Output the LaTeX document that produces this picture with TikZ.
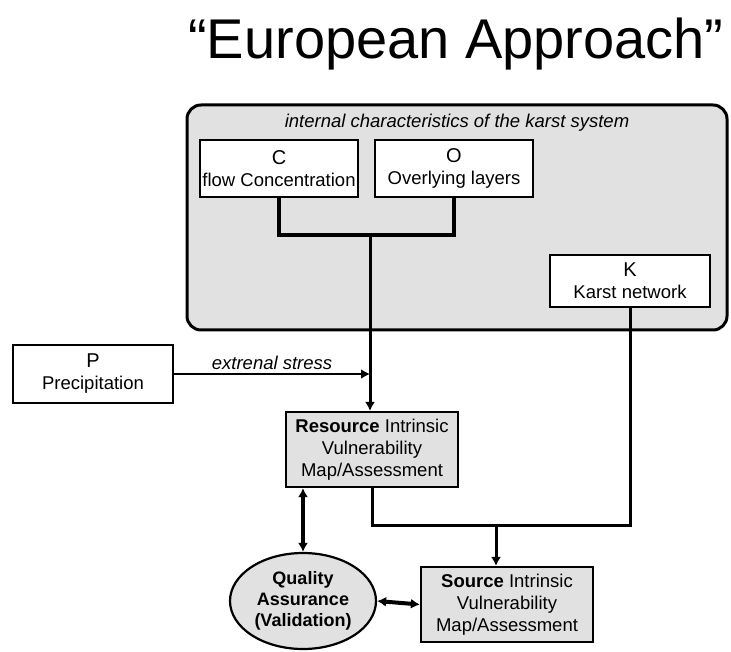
\documentclass[tikz,border=0pt]{standalone}
\usepackage{fontspec}
\setmainfont{Liberation Sans}
\usetikzlibrary{shapes.geometric, arrows.meta}
\definecolor{panelgray}{HTML}{E1E1E1}
\newcommand{\factor}[1]{{\fontsize{20}{22}\selectfont #1}}
\tikzset{
  box/.style={draw, line width=2.2pt, fill=white, align=center, inner sep=1pt, font=\fontsize{18.5}{22}\selectfont},
  graybox/.style={box, fill=panelgray, minimum width=172, minimum height=75},
  link/.style={line width=3pt},
  tip/.style={-{Latex[length=9pt,width=10pt]}},
  both/.style={{Latex[length=9pt,width=10pt]}-{Latex[length=9pt,width=10pt]}}
}
\begin{document}
\begin{tikzpicture}[x=1pt, y=-1pt]
          \useasboundingbox (0, 0) rectangle (731, 652);
          \node[font=\fontsize{56}{60}\selectfont] (title) at (456, 44) {“European Approach”};
          \node[draw, line width=3pt, fill=panelgray, rounded corners=14, minimum width=540, minimum height=225] (karst) at (457, 217.5) {};
          \node[font=\fontsize{18.5}{22}\selectfont\itshape] (inner) at (457, 123) {internal characteristics of the karst system};
          \node[box, minimum width=158, minimum height=57] (conc) at (279, 168.5) {\factor{C}\\flow Concentration};
          \node[box, minimum width=158, minimum height=57] (over) at (454, 168.5) {\factor{O}\\Overlying layers};
          \node[box, minimum width=160, minimum height=52] (net) at (630, 281) {\factor{K}\\Karst network};
          \node[box, minimum width=160, minimum height=58] (prec) at (93, 374) {\factor{P}\\Precipitation};
          \node[graybox] (resource) at (372, 449.5) {\textbf{Resource} Intrinsic\\Vulnerability\\Map/Assessment};
          \node[graybox] (source) at (507, 604.5) {\textbf{Source} Intrinsic\\Vulnerability\\Map/Assessment};
          \node[draw, ellipse, line width=2.2pt, fill=panelgray, minimum width=146, minimum height=96, align=center, inner sep=0, font=\fontsize{18}{21}\selectfont\bfseries] (quality) at (303, 601) {Quality\\Assurance\\(Validation)};
          \coordinate (join) at (370, 235);
          \coordinate (merge) at (496, 525);
          \draw[line width=4.5pt] (conc.south) |- (join) -| (over.south);
          \draw[link, tip] (join) -- (join |- resource.north);
          \draw[line width=1.8pt, tip] (prec.east) -- (prec.east -| join) node[midway, above, font=\fontsize{18.5}{22}\selectfont\itshape]{extrenal stress};
          \draw[link] (net.south) |- (merge) -- (resource.south |- merge) -- (resource.south);
          \draw[link, tip] (merge) -- (merge |- source.north);
          \draw[line width=4pt, both] (quality.north) -- (quality.north |- resource.south);
          \draw[line width=4pt, both] (quality.east) -- (source.west);
        \end{tikzpicture}
\end{document}
